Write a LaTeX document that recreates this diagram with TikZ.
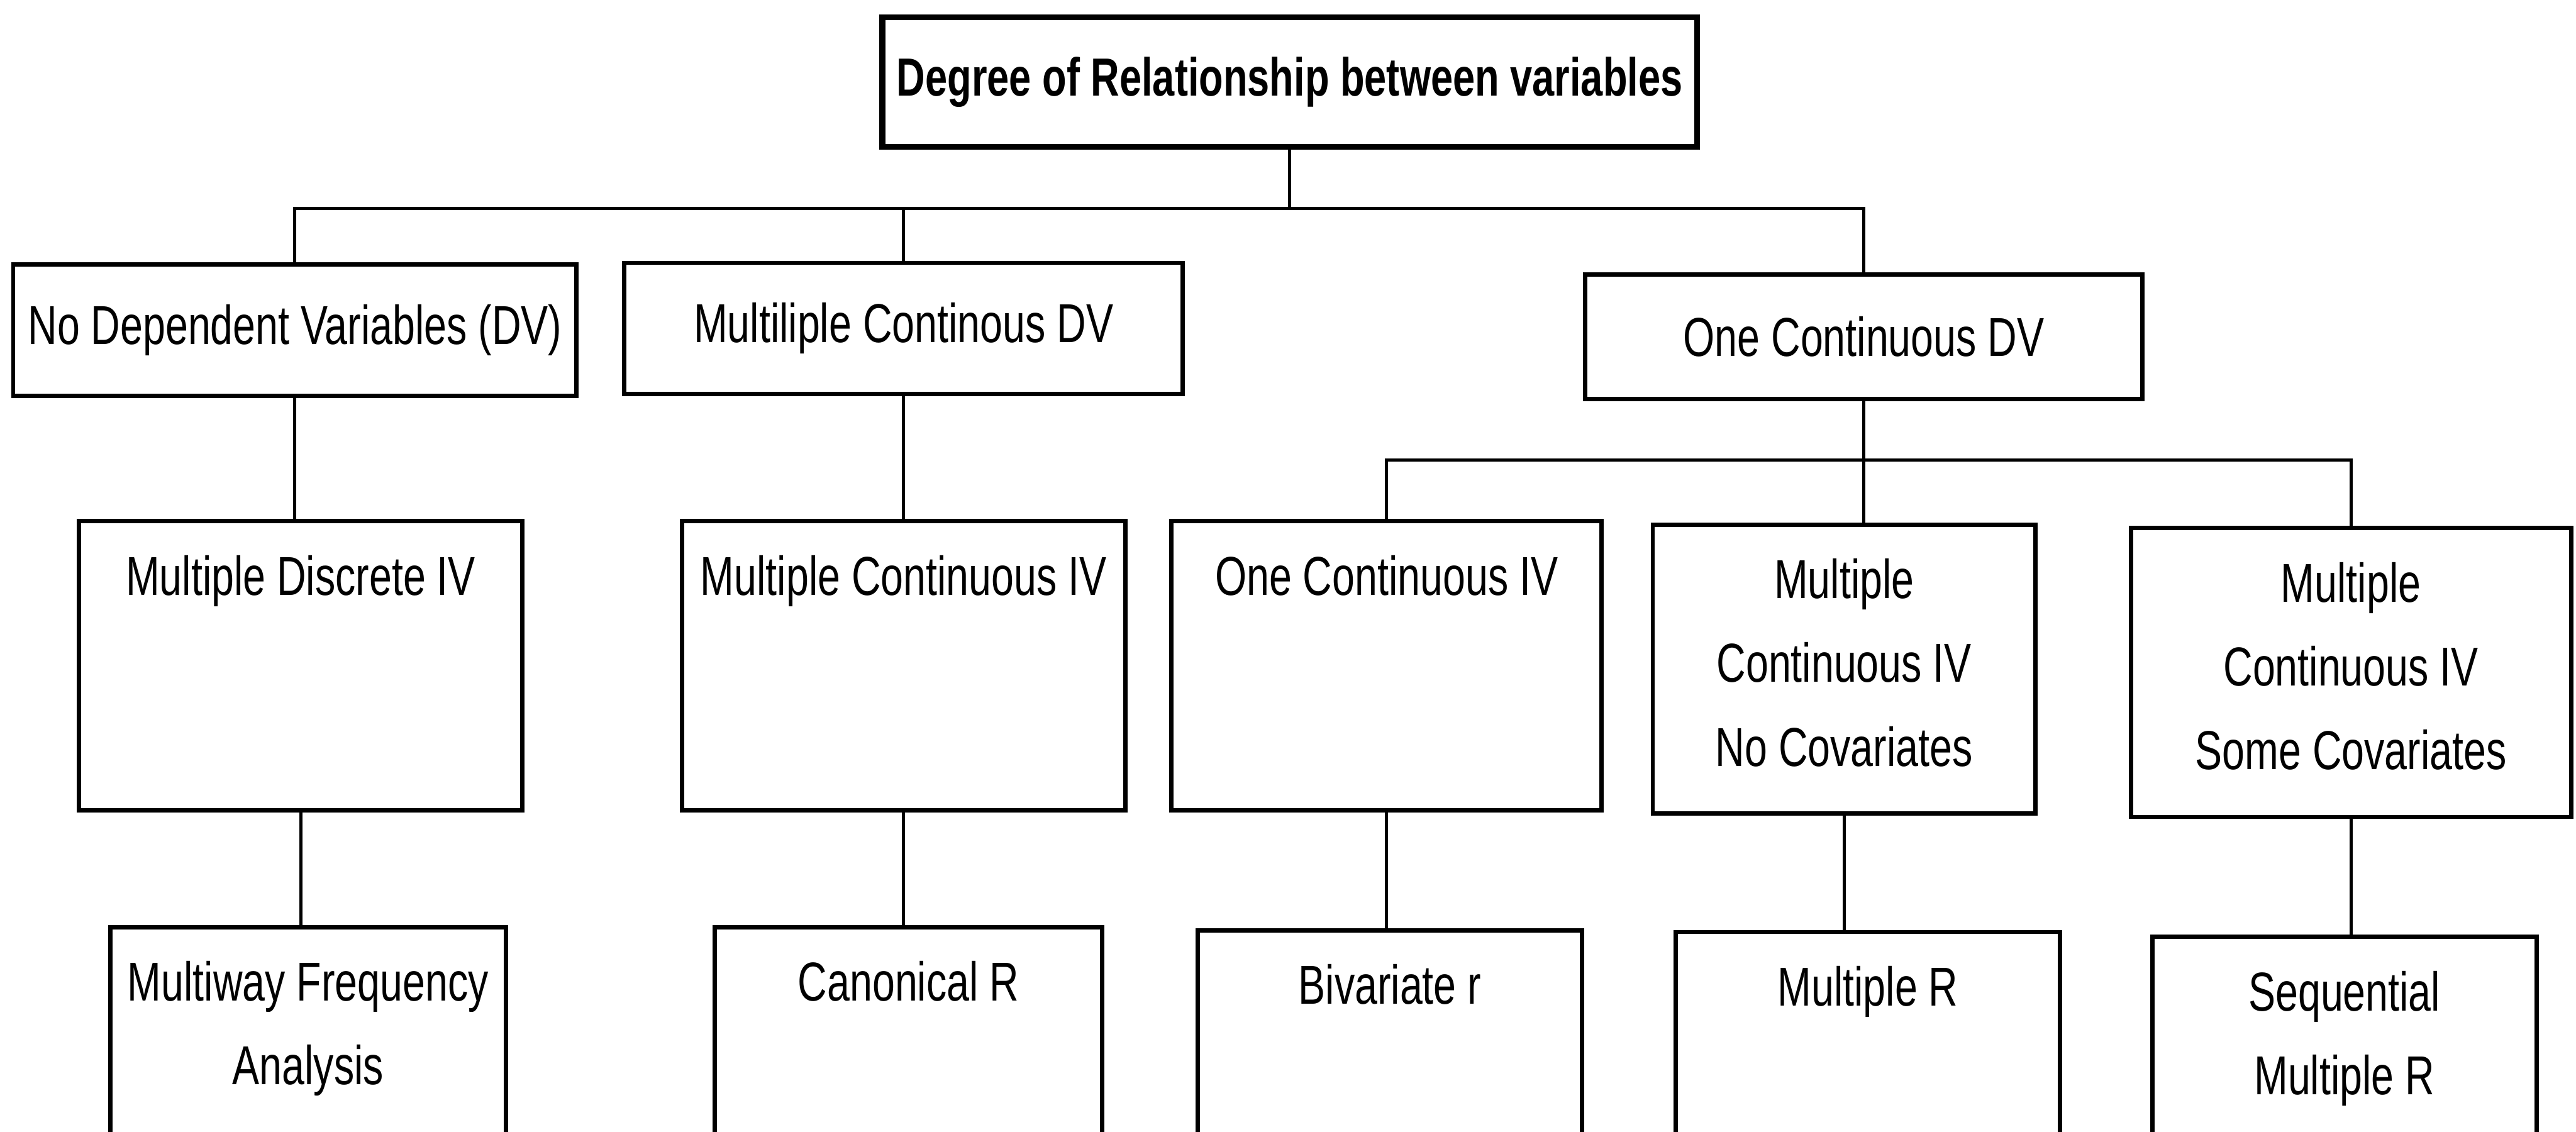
\documentclass[tikz,border=0pt]{standalone}
\usepackage{fontspec}
\setmainfont{Liberation Sans}[FakeStretch=0.74]
\usetikzlibrary{positioning}

\begin{document}
\begin{tikzpicture}[x=0.02cm, y=-0.02cm,
	font = \fontsize{19}{29}\selectfont,
	head/.style = {draw, line width=2pt, font=\fontsize{18.6}{29}\selectfont\bfseries, minimum width=9.92cm, minimum height=1.58cm},
	dv/.style = {draw, line width=1.5pt, minimum height=1.6cm},
	iv/.style = {draw, line width=1.5pt, align=center, anchor=north, inner ysep=0pt, text height=0.9cm, text depth=2.62cm},
	iv2/.style = {iv, text height=1.92cm, text depth=1.6cm},   % two lines
	iv3/.style = {iv, text height=2.94cm, text depth=0.58cm},  % three lines
	link/.style = {line width=1.1pt}]
	
	\clip (0,0) rectangle (1568,689);
	\fill[white] (0,0) rectangle (1568,689);
	
	\node[head] (deg) at (785,50) {Degree of Relationship between variables};
	
	% kinds of DV
	\node[dv, minimum width=6.86cm] (nodv) at (179.5,201) {No Dependent Variables (DV)};
	\node[dv, minimum width=6.8cm] (multdv) at (550,200) {Multiliple Continous DV};
	\node[dv, minimum width=6.78cm, minimum height=1.52cm] (onedv) at (1134.5,205) {One Continuous DV};
	
	% kinds of IV
	\node[iv, minimum width=5.4cm] (discrete) at (183,316) {Multiple Discrete IV};
	\node[iv, minimum width=5.4cm] (multiv) at (550,316) {Multiple Continuous IV};
	\node[iv, minimum width=5.24cm] (onec) at (844,316) {One Continuous IV};
	\node[iv3, minimum width=4.66cm] (nocov) at (1122.5,318) {Multiple\\Continuous IV\\No Covariates};
	\node[iv3, minimum width=5.36cm] (somecov) at (1431,320) {Multiple\\Continuous IV\\Some Covariates};
	
	% analyses (cut by the page edge)
	\node[iv2, minimum width=4.82cm] (mfa) at (187.5,563) {Multiway Frequency\\Analysis};
	\node[iv, minimum width=4.72cm] (canon) at (553,563) {Canonical R};
	\node[iv, minimum width=4.68cm] (bivar) at (846,565) {Bivariate r};
	\node[iv, minimum width=4.68cm] (multr) at (1137,566) {Multiple R};
	\node[iv2, minimum width=4.68cm] (seqr) at (1427,569) {Sequential\\Multiple R};
	
	\coordinate (bar1) at (785,127);
	\coordinate (bar2) at (1134,280);
	
	\draw[link] (deg) -- (bar1);
	\draw[link] (nodv.north) |- (bar1) -| (onedv.north);
	\draw[link] (multdv.north) -- (multdv.north |- bar1);
	
	\draw[link] (nodv.south) -- (nodv.south |- discrete.north);
	\draw[link] (multdv.south) -- (multdv.south |- multiv.north);
	\draw[link] (onedv.south) -- (onedv.south |- nocov.north);
	\draw[link] (onec.north) |- (bar2) -| (somecov.north);
	
	\foreach \a/\b in {discrete/mfa, multiv/canon, onec/bivar, nocov/multr, somecov/seqr}
	{
		\draw[link] (\a.south) -- (\a.south |- \b.north);
	}
\end{tikzpicture}
\end{document}
